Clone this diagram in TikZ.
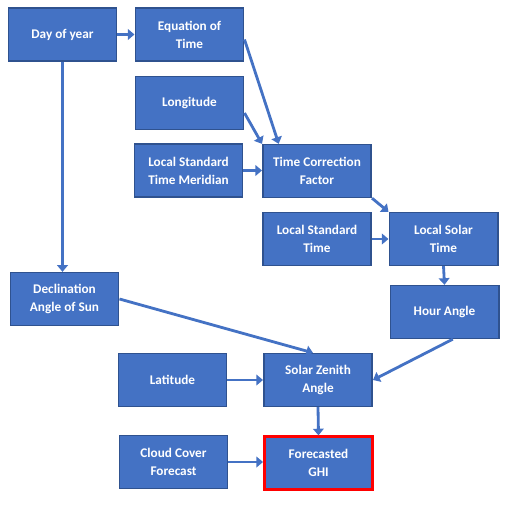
\documentclass[tikz,border=0pt]{standalone}
\usepackage{fontspec}
\setmainfont{Carlito}
\usetikzlibrary{arrows.meta}
\definecolor{boxblue}{HTML}{4472C4}
\definecolor{edgeblue}{HTML}{2F528F}
\definecolor{ghired}{HTML}{FF0000}

\begin{document}
\begin{tikzpicture}[x=0.03cm, y=-0.03cm,
	box/.style={rectangle, draw=edgeblue, line width=1.4pt, fill=boxblue, text=white, font=\fontsize{11.3}{15.3}\selectfont\bfseries, align=center, minimum width=3.25cm, minimum height=1.58cm, inner sep=2pt},
	ghibox/.style={box, draw=ghired, line width=2.2pt},
	arr/.style={draw=boxblue, line width=2.4pt, -{Triangle[width=0.32cm, length=0.2cm]}}]
			\useasboundingbox (0,0) rectangle (517,506);
			\node[box] (day) at (62.5,34.5) {Day of year};
			\node[box] (eot) at (189.5,34.5) {Equation of\\Time};
			\node[box] (lon) at (189.5,103) {Longitude};
			\node[box] (lstm) at (188.5,170.5) {Local Standard\\Time Meridian};
			\node[box] (tcf) at (317,171) {Time Correction\\Factor};
			\node[box] (lstd) at (317,239) {Local Standard\\Time};
			\node[box] (lsol) at (443.5,239) {Local Solar\\Time};
			\node[box] (ha) at (444.5,312) {Hour Angle};
			\node[box] (decl) at (64.5,299) {Declination\\Angle of Sun};
			\node[box] (lat) at (172.5,380) {Latitude};
			\node[box] (sza) at (318,380) {Solar Zenith\\Angle};
			\node[box] (cloud) at (173.5,462) {Cloud Cover\\Forecast};
			\node[ghibox] (ghi) at (318.5,463) {Forecasted\\GHI};
			\draw[arr] (day.east) -- (eot.west);
			\draw[arr] (day.south) -- (day.south |- decl.north);
			\draw[arr] ([yshift=-0.15cm]eot.east) -- ([xshift=0.5cm]tcf.north west);
			\draw[arr] ([yshift=-0.3cm]lon.east) -- (tcf.north west);
			\draw[arr] (lstm.east) -- (lstm.east -| tcf.west);
			\draw[arr] (tcf.south east) -- (lsol.north west);
			\draw[arr] (lstd.east) -- (lsol.west);
			\draw[arr] (lsol.south) -- (ha.north);
			\draw[arr] (decl.east) -- ([xshift=-0.15cm]sza.north);
			\draw[arr] ([xshift=0.25cm]ha.south) -- (sza.east);
			\draw[arr] (lat.east) -- (sza.west);
			\draw[arr] (sza.south) -- (ghi.north);
			\draw[arr] (cloud.east) -- (cloud.east -| ghi.west);
\end{tikzpicture}
\end{document}
